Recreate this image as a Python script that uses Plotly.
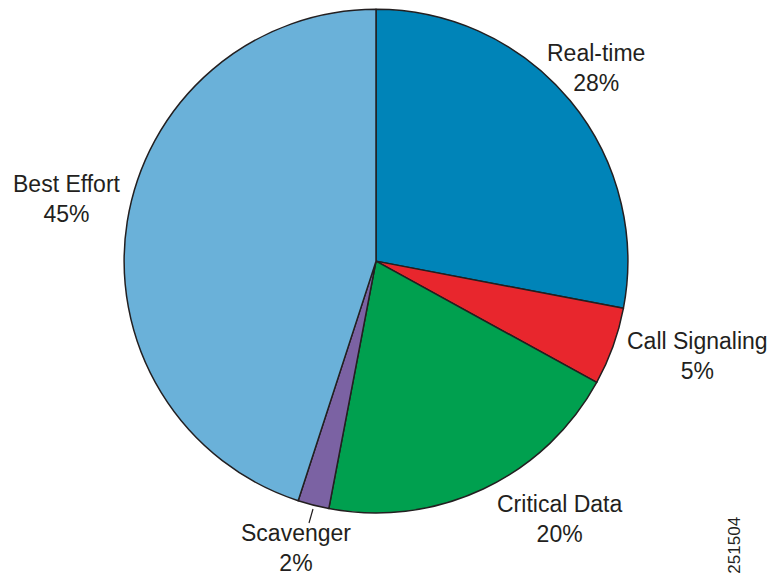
import plotly.graph_objects as go

labels = ["Real-time", "Call Signaling", "Critical Data", "Scavenger", "Best Effort"]
values = [28, 5, 20, 2, 45]
colors = ["#0084b8", "#e8262d", "#00a04f", "#7b62a3", "#6ab1d9"]
# label anchor positions (paper fractions)
label_pos = [(0.772, 0.883), (0.904, 0.386), (0.725, 0.104), (0.383, 0.054), (0.087, 0.657)]
figure_id = "251504"

fig = go.Figure()
fig.add_trace(go.Pie(
    labels=labels, values=values, sort=False, direction="clockwise", rotation=0,
    marker=dict(colors=colors, line=dict(color="#231f20", width=1.5)),
    textinfo="none", hoverinfo="label+percent", showlegend=False,
    domain=dict(x=[0.1606, 0.8135], y=[0.114, 0.984]),
))

font = dict(family="Liberation Sans, Arial, sans-serif", size=23, color="#231f20")
for lab, val, (x, y) in zip(labels, values, label_pos):
    fig.add_annotation(x=x, y=y, xref="paper", yref="paper", showarrow=False,
                       text=f"{lab}<br>{val}%", font=font, align="center",
                       xanchor="center", yanchor="middle")

fig.add_annotation(x=0.967, y=0.005, xref="paper", yref="paper", showarrow=False,
                   text=figure_id, textangle=-90,
                   font=dict(family="Liberation Sans, Arial, sans-serif", size=17, color="#231f20"))

fig.add_shape(type="line", xref="paper", yref="paper",
              x0=313/772, y0=1-509/579, x1=309/772, y1=1-523/579,
              line=dict(color="#231f20", width=1.2))

fig.update_layout(width=772, height=579, margin=dict(l=0, r=0, t=0, b=0),
                  paper_bgcolor="white", plot_bgcolor="white")
fig.write_html("out.html", config={"displayModeBar": False},
               post_script="document.body.style.margin='0';document.body.style.overflow='hidden';")
